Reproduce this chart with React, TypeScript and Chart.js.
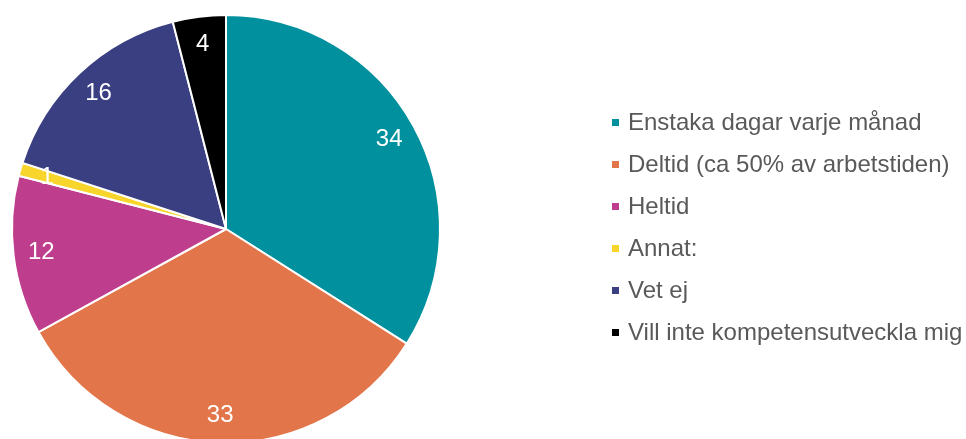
import React, { useEffect, useRef } from "react";
import { Chart, registerables } from "chart.js";

Chart.register(...registerables);

const categories = [
  "Enstaka dagar varje månad",
  "Deltid (ca 50% av arbetstiden)",
  "Heltid",
  "Annat:",
  "Vet ej",
  "Vill inte kompetensutveckla mig",
];
const values = [34, 33, 12, 1, 16, 4];
const colors = ["#00909E", "#E2764A", "#BE3D8C", "#F7D52C", "#3A3F82", "#000000"];

const LABEL_RADIUS = 0.87;

export default function App() {
  const ref = useRef<HTMLCanvasElement>(null);

  useEffect(() => {
    document.body.style.margin = "0";
    const labelPlugin = {
      id: "sliceLabels",
      afterDatasetsDraw(chart: any) {
        const ctx = chart.ctx;
        const meta = chart.getDatasetMeta(0);
        ctx.save();
        ctx.font = '24px "Liberation Sans", Arial, sans-serif';
        ctx.fillStyle = "#ffffff";
        ctx.textAlign = "center";
        ctx.textBaseline = "middle";
        meta.data.forEach((arc: any, i: number) => {
          const p = arc.getProps(["x", "y", "startAngle", "endAngle", "outerRadius"], true);
          const mid = (p.startAngle + p.endAngle) / 2;
          const r = p.outerRadius * LABEL_RADIUS;
          ctx.fillText(String(values[i]), p.x + Math.cos(mid) * r, p.y + Math.sin(mid) * r);
        });
        ctx.restore();
      },
    };
    const chart = new Chart(ref.current as HTMLCanvasElement, {
      type: "pie",
      data: {
        labels: categories,
        datasets: [
          {
            data: values,
            backgroundColor: colors,
            borderColor: "#ffffff",
            borderWidth: 2,
          },
        ],
      },
      options: {
        responsive: false,
        animation: false,
        layout: { padding: { left: 11, top: 14, right: 525, bottom: 1 } },
        plugins: {
          legend: { display: false },
          tooltip: { enabled: false },
        },
      },
      plugins: [labelPlugin],
    });
    return () => chart.destroy();
  }, []);

  return (
    <div style={{ position: "relative", width: 966, height: 439, overflow: "hidden", background: "#fff" }}>
      <canvas ref={ref} width={966} height={445} style={{ position: "absolute", left: 0, top: 0 }} />
      {categories.map((c, i) => (
        <div
          key={c}
          style={{
            position: "absolute",
            left: 612,
            top: 101 + i * 42,
            height: 42,
            display: "flex",
            alignItems: "center",
            whiteSpace: "nowrap",
            font: '24px "Liberation Sans", Arial, sans-serif',
            color: "#595959",
          }}
        >
          <span style={{ display: "inline-block", width: 7, height: 7, background: colors[i], marginRight: 9 }} />
          <span>{c}</span>
        </div>
      ))}
    </div>
  );
}
